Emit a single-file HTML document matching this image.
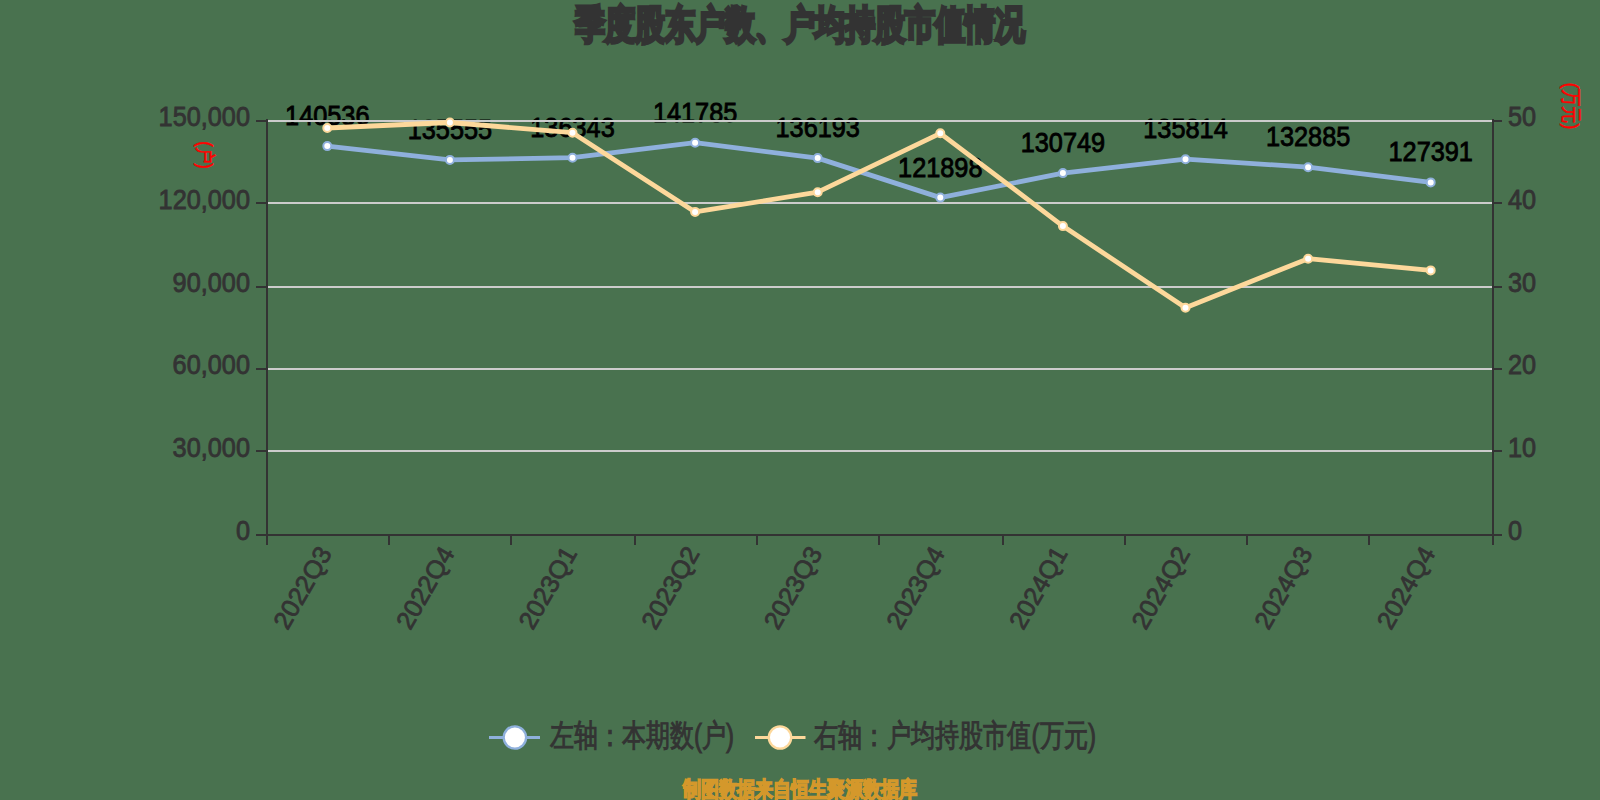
<!DOCTYPE html>
<html><head><meta charset="utf-8"><style>
html,body{margin:0;padding:0;background:#49724f;width:1600px;height:800px;overflow:hidden}
svg{display:block;font-family:"Liberation Sans",sans-serif}
</style></head><body>
<svg width="1600" height="800" viewBox="0 0 1600 800">
<rect width="1600" height="800" fill="#49724f"/>
<text x="800" y="37.5" text-anchor="middle" font-size="39" font-weight="bold" fill="#333333" stroke="#333333" stroke-width="3.5" textLength="450" lengthAdjust="spacingAndGlyphs">季度股东户数、户均持股市值情况</text>
<text transform="translate(327.3,125.1) scale(1,1.08)" text-anchor="middle" font-size="25.3" fill="#000" stroke="#000" stroke-width="0.8">140536</text>
<text transform="translate(449.9,138.9) scale(1,1.08)" text-anchor="middle" font-size="25.3" fill="#000" stroke="#000" stroke-width="0.8">135555</text>
<text transform="translate(572.5,136.7) scale(1,1.08)" text-anchor="middle" font-size="25.3" fill="#000" stroke="#000" stroke-width="0.8">136343</text>
<text transform="translate(695.1,121.7) scale(1,1.08)" text-anchor="middle" font-size="25.3" fill="#000" stroke="#000" stroke-width="0.8">141785</text>
<text transform="translate(817.7,137.1) scale(1,1.08)" text-anchor="middle" font-size="25.3" fill="#000" stroke="#000" stroke-width="0.8">136193</text>
<text transform="translate(940.3,176.6) scale(1,1.08)" text-anchor="middle" font-size="25.3" fill="#000" stroke="#000" stroke-width="0.8">121898</text>
<text transform="translate(1062.9,152.1) scale(1,1.08)" text-anchor="middle" font-size="25.3" fill="#000" stroke="#000" stroke-width="0.8">130749</text>
<text transform="translate(1185.5,138.2) scale(1,1.08)" text-anchor="middle" font-size="25.3" fill="#000" stroke="#000" stroke-width="0.8">135814</text>
<text transform="translate(1308.1,146.2) scale(1,1.08)" text-anchor="middle" font-size="25.3" fill="#000" stroke="#000" stroke-width="0.8">132885</text>
<text transform="translate(1430.7,161.4) scale(1,1.08)" text-anchor="middle" font-size="25.3" fill="#000" stroke="#000" stroke-width="0.8">127391</text>
<rect x="268" y="120" width="1224" height="2" fill="#cccccc"/>
<rect x="268" y="202" width="1224" height="2" fill="#cccccc"/>
<rect x="268" y="286" width="1224" height="2" fill="#cccccc"/>
<rect x="268" y="368" width="1224" height="2" fill="#cccccc"/>
<rect x="268" y="450" width="1224" height="2" fill="#cccccc"/>
<rect x="266" y="119" width="2" height="417" fill="#333333"/>
<rect x="1492" y="119" width="2" height="417" fill="#333333"/>
<rect x="257" y="534" width="1245" height="2" fill="#333333"/>
<rect x="256" y="120" width="11" height="2" fill="#333333"/>
<rect x="1493" y="120" width="9" height="2" fill="#333333"/>
<rect x="256" y="202" width="11" height="2" fill="#333333"/>
<rect x="1493" y="202" width="9" height="2" fill="#333333"/>
<rect x="256" y="286" width="11" height="2" fill="#333333"/>
<rect x="1493" y="286" width="9" height="2" fill="#333333"/>
<rect x="256" y="368" width="11" height="2" fill="#333333"/>
<rect x="1493" y="368" width="9" height="2" fill="#333333"/>
<rect x="256" y="450" width="11" height="2" fill="#333333"/>
<rect x="1493" y="450" width="9" height="2" fill="#333333"/>
<rect x="256" y="534" width="11" height="2" fill="#333333"/>
<rect x="1493" y="534" width="9" height="2" fill="#333333"/>
<rect x="266" y="535" width="2" height="10" fill="#333333"/>
<rect x="388" y="535" width="2" height="10" fill="#333333"/>
<rect x="510" y="535" width="2" height="10" fill="#333333"/>
<rect x="634" y="535" width="2" height="10" fill="#333333"/>
<rect x="756" y="535" width="2" height="10" fill="#333333"/>
<rect x="878" y="535" width="2" height="10" fill="#333333"/>
<rect x="1002" y="535" width="2" height="10" fill="#333333"/>
<rect x="1124" y="535" width="2" height="10" fill="#333333"/>
<rect x="1246" y="535" width="2" height="10" fill="#333333"/>
<rect x="1368" y="535" width="2" height="10" fill="#333333"/>
<rect x="1492" y="535" width="2" height="10" fill="#333333"/>
<text transform="translate(250,125.9) scale(1,1.08)" text-anchor="end" font-size="25.3" fill="#333333" stroke="#333333" stroke-width="0.8">150,000</text>
<text transform="translate(1508,125.9) scale(1,1.08)" font-size="25.3" fill="#333333" stroke="#333333" stroke-width="0.8">50</text>
<text transform="translate(250,208.7) scale(1,1.08)" text-anchor="end" font-size="25.3" fill="#333333" stroke="#333333" stroke-width="0.8">120,000</text>
<text transform="translate(1508,208.7) scale(1,1.08)" font-size="25.3" fill="#333333" stroke="#333333" stroke-width="0.8">40</text>
<text transform="translate(250,291.5) scale(1,1.08)" text-anchor="end" font-size="25.3" fill="#333333" stroke="#333333" stroke-width="0.8">90,000</text>
<text transform="translate(1508,291.5) scale(1,1.08)" font-size="25.3" fill="#333333" stroke="#333333" stroke-width="0.8">30</text>
<text transform="translate(250,374.3) scale(1,1.08)" text-anchor="end" font-size="25.3" fill="#333333" stroke="#333333" stroke-width="0.8">60,000</text>
<text transform="translate(1508,374.3) scale(1,1.08)" font-size="25.3" fill="#333333" stroke="#333333" stroke-width="0.8">20</text>
<text transform="translate(250,457.1) scale(1,1.08)" text-anchor="end" font-size="25.3" fill="#333333" stroke="#333333" stroke-width="0.8">30,000</text>
<text transform="translate(1508,457.1) scale(1,1.08)" font-size="25.3" fill="#333333" stroke="#333333" stroke-width="0.8">10</text>
<text transform="translate(250,539.9) scale(1,1.08)" text-anchor="end" font-size="25.3" fill="#333333" stroke="#333333" stroke-width="0.8">0</text>
<text transform="translate(1508,539.9) scale(1,1.08)" font-size="25.3" fill="#333333" stroke="#333333" stroke-width="0.8">0</text>
<text transform="translate(324.8,548.5) rotate(-60)" text-anchor="end" dominant-baseline="central" font-size="25.3" fill="#333333" stroke="#333333" stroke-width="0.8">2022Q3</text>
<text transform="translate(447.4,548.5) rotate(-60)" text-anchor="end" dominant-baseline="central" font-size="25.3" fill="#333333" stroke="#333333" stroke-width="0.8">2022Q4</text>
<text transform="translate(570.0,548.5) rotate(-60)" text-anchor="end" dominant-baseline="central" font-size="25.3" fill="#333333" stroke="#333333" stroke-width="0.8">2023Q1</text>
<text transform="translate(692.6,548.5) rotate(-60)" text-anchor="end" dominant-baseline="central" font-size="25.3" fill="#333333" stroke="#333333" stroke-width="0.8">2023Q2</text>
<text transform="translate(815.2,548.5) rotate(-60)" text-anchor="end" dominant-baseline="central" font-size="25.3" fill="#333333" stroke="#333333" stroke-width="0.8">2023Q3</text>
<text transform="translate(937.8,548.5) rotate(-60)" text-anchor="end" dominant-baseline="central" font-size="25.3" fill="#333333" stroke="#333333" stroke-width="0.8">2023Q4</text>
<text transform="translate(1060.4,548.5) rotate(-60)" text-anchor="end" dominant-baseline="central" font-size="25.3" fill="#333333" stroke="#333333" stroke-width="0.8">2024Q1</text>
<text transform="translate(1183.0,548.5) rotate(-60)" text-anchor="end" dominant-baseline="central" font-size="25.3" fill="#333333" stroke="#333333" stroke-width="0.8">2024Q2</text>
<text transform="translate(1305.6,548.5) rotate(-60)" text-anchor="end" dominant-baseline="central" font-size="25.3" fill="#333333" stroke="#333333" stroke-width="0.8">2024Q3</text>
<text transform="translate(1428.2,548.5) rotate(-60)" text-anchor="end" dominant-baseline="central" font-size="25.3" fill="#333333" stroke="#333333" stroke-width="0.8">2024Q4</text>
<text transform="translate(205,155) rotate(90)" text-anchor="middle" dominant-baseline="central" font-size="21" fill="#ff0000" stroke="#ff0000" stroke-width="0.6" textLength="27.5" lengthAdjust="spacingAndGlyphs">(户)</text>
<text transform="translate(1571,106) rotate(90)" text-anchor="middle" dominant-baseline="central" font-size="21" fill="#ff0000" stroke="#ff0000" stroke-width="0.6" textLength="46.4" lengthAdjust="spacingAndGlyphs">(万元)</text>
<polyline points="327.3,146.1 449.9,159.9 572.5,157.7 695.1,142.7 817.7,158.1 940.3,197.6 1062.9,173.1 1185.5,159.2 1308.1,167.2 1430.7,182.4" fill="none" stroke="#8fb0dc" stroke-width="4.8" stroke-linejoin="bevel"/>
<circle cx="327.3" cy="146.1" r="4" fill="#fff" stroke="#8fb0dc" stroke-width="2"/>
<circle cx="449.9" cy="159.9" r="4" fill="#fff" stroke="#8fb0dc" stroke-width="2"/>
<circle cx="572.5" cy="157.7" r="4" fill="#fff" stroke="#8fb0dc" stroke-width="2"/>
<circle cx="695.1" cy="142.7" r="4" fill="#fff" stroke="#8fb0dc" stroke-width="2"/>
<circle cx="817.7" cy="158.1" r="4" fill="#fff" stroke="#8fb0dc" stroke-width="2"/>
<circle cx="940.3" cy="197.6" r="4" fill="#fff" stroke="#8fb0dc" stroke-width="2"/>
<circle cx="1062.9" cy="173.1" r="4" fill="#fff" stroke="#8fb0dc" stroke-width="2"/>
<circle cx="1185.5" cy="159.2" r="4" fill="#fff" stroke="#8fb0dc" stroke-width="2"/>
<circle cx="1308.1" cy="167.2" r="4" fill="#fff" stroke="#8fb0dc" stroke-width="2"/>
<circle cx="1430.7" cy="182.4" r="4" fill="#fff" stroke="#8fb0dc" stroke-width="2"/>
<polyline points="327.3,128.0 449.9,122.5 572.5,132.7 695.1,211.9 817.7,192.2 940.3,133.3 1062.9,226.1 1185.5,307.8 1308.1,258.7 1430.7,270.4" fill="none" stroke="#fdd89b" stroke-width="4.8" stroke-linejoin="bevel"/>
<circle cx="327.3" cy="128.0" r="4" fill="#fff" stroke="#fdd89b" stroke-width="2"/>
<circle cx="449.9" cy="122.5" r="4" fill="#fff" stroke="#fdd89b" stroke-width="2"/>
<circle cx="572.5" cy="132.7" r="4" fill="#fff" stroke="#fdd89b" stroke-width="2"/>
<circle cx="695.1" cy="211.9" r="4" fill="#fff" stroke="#fdd89b" stroke-width="2"/>
<circle cx="817.7" cy="192.2" r="4" fill="#fff" stroke="#fdd89b" stroke-width="2"/>
<circle cx="940.3" cy="133.3" r="4" fill="#fff" stroke="#fdd89b" stroke-width="2"/>
<circle cx="1062.9" cy="226.1" r="4" fill="#fff" stroke="#fdd89b" stroke-width="2"/>
<circle cx="1185.5" cy="307.8" r="4" fill="#fff" stroke="#fdd89b" stroke-width="2"/>
<circle cx="1308.1" cy="258.7" r="4" fill="#fff" stroke="#fdd89b" stroke-width="2"/>
<circle cx="1430.7" cy="270.4" r="4" fill="#fff" stroke="#fdd89b" stroke-width="2"/>
<rect x="489" y="736" width="51" height="3" fill="#8fb0dc"/><circle cx="514.9" cy="737.5" r="11.2" fill="#fff" stroke="#8fb0dc" stroke-width="2.3"/>
<text x="550" y="745.8" font-size="31" fill="#333333" stroke="#333333" stroke-width="1" textLength="184" lengthAdjust="spacingAndGlyphs">左轴：本期数(户)</text>
<rect x="755" y="736" width="50.5" height="3" fill="#fdd89b"/><circle cx="780" cy="737.5" r="11.2" fill="#fff" stroke="#fdd89b" stroke-width="2.3"/>
<text x="814" y="745.8" font-size="31" fill="#333333" stroke="#333333" stroke-width="1" textLength="282" lengthAdjust="spacingAndGlyphs">右轴：户均持股市值(万元)</text>
<text x="800" y="796.8" text-anchor="middle" font-size="22.4" font-weight="bold" fill="#d4982b" stroke="#d4982b" stroke-width="1.5" textLength="234" lengthAdjust="spacingAndGlyphs">制图数据来自恒生聚源数据库</text>
</svg>
</body></html>
